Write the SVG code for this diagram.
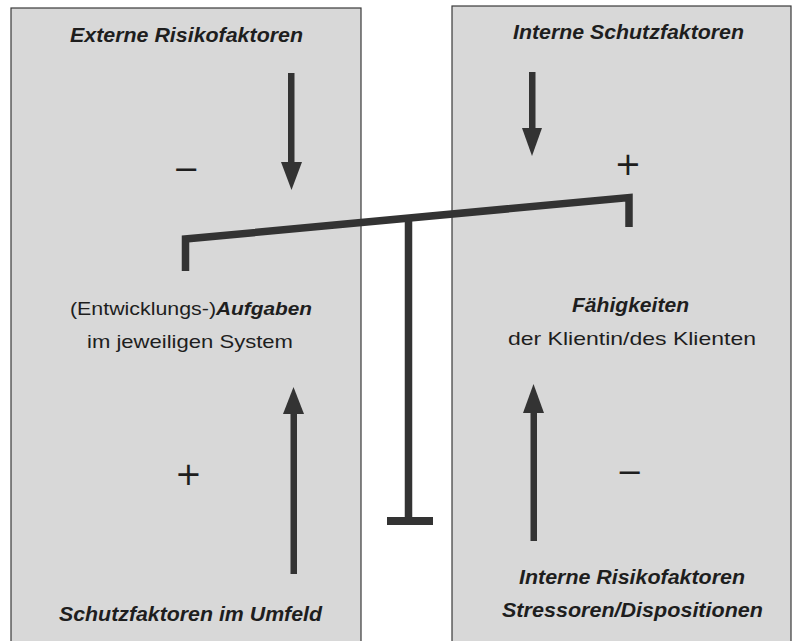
<svg xmlns="http://www.w3.org/2000/svg" width="793" height="641" viewBox="0 0 793 641">
<style>
.panel{fill:#d8d8d8;stroke:#3a3a3a;stroke-width:1.2}
.hb{font-family:"Liberation Sans",Arial,sans-serif;font-weight:bold;font-style:italic;font-size:20px;fill:#1e1e1e}
.rg{font-family:"Liberation Sans",Arial,sans-serif;font-size:19px;fill:#1e1e1e}
.sg{font-family:"DejaVu Sans",sans-serif;font-size:32px;fill:#1e1e1e;text-anchor:middle}
.bar{fill:none;stroke:#333;stroke-width:7.5;stroke-linejoin:miter;stroke-linecap:butt}
.arr{fill:#333}
</style>
<rect width="793" height="641" fill="#ffffff"/>
<g id="left-panel">
<rect class="panel" x="11" y="8" width="350" height="650"/>
<text class="hb" x="70" y="42" textLength="233" lengthAdjust="spacingAndGlyphs">Externe Risikofaktoren</text>
<text class="sg" x="186.5" y="179.5">−</text>
<text class="rg" x="70" y="315" textLength="146" lengthAdjust="spacingAndGlyphs">(Entwicklungs-)</text>
<text class="hb" x="216" y="315" textLength="96" lengthAdjust="spacingAndGlyphs" style="font-size:19px">Aufgaben</text>
<text class="rg" x="87" y="348" textLength="206" lengthAdjust="spacingAndGlyphs">im jeweiligen System</text>
<text class="sg" x="188.5" y="484.5">+</text>
<text class="hb" x="59" y="621" textLength="263" lengthAdjust="spacingAndGlyphs">Schutzfaktoren im Umfeld</text>
</g>
<g id="right-panel">
<rect class="panel" x="452" y="6" width="339" height="652"/>
<text class="hb" x="513" y="39" textLength="231" lengthAdjust="spacingAndGlyphs">Interne Schutzfaktoren</text>
<text class="sg" x="628" y="174.5">+</text>
<text class="hb" x="572" y="312" textLength="117" lengthAdjust="spacingAndGlyphs">Fähigkeiten</text>
<text class="rg" x="508" y="345" textLength="248" lengthAdjust="spacingAndGlyphs">der Klientin/des Klienten</text>
<text class="sg" x="630" y="482.5">−</text>
<text class="hb" x="519" y="584" textLength="226" lengthAdjust="spacingAndGlyphs">Interne Risikofaktoren</text>
<text class="hb" x="502" y="617" textLength="261" lengthAdjust="spacingAndGlyphs">Stressoren/Dispositionen</text>
</g>
<g id="balance">
<polyline class="bar" points="185.5,271 185.5,239 629,197.5 629,227"/>
<line class="bar" x1="408.5" y1="220" x2="408.5" y2="521"/>
<line class="bar" x1="387" y1="521" x2="433" y2="521" style="stroke-width:8"/>
</g>
<g id="connectors">
<rect class="arr" x="288" y="73" width="6.5" height="92"/>
<polygon class="arr" points="281,162 302,162 291.5,190"/>
<rect class="arr" x="529" y="72" width="6.5" height="58"/>
<polygon class="arr" points="522,128 542,128 532,156"/>
<rect class="arr" x="290.5" y="410" width="6.5" height="164"/>
<polygon class="arr" points="293.5,387 304,414 283,414"/>
<rect class="arr" x="530.5" y="410" width="6.5" height="131"/>
<polygon class="arr" points="533.5,384 544,413 523,413"/>
</g>
</svg>
